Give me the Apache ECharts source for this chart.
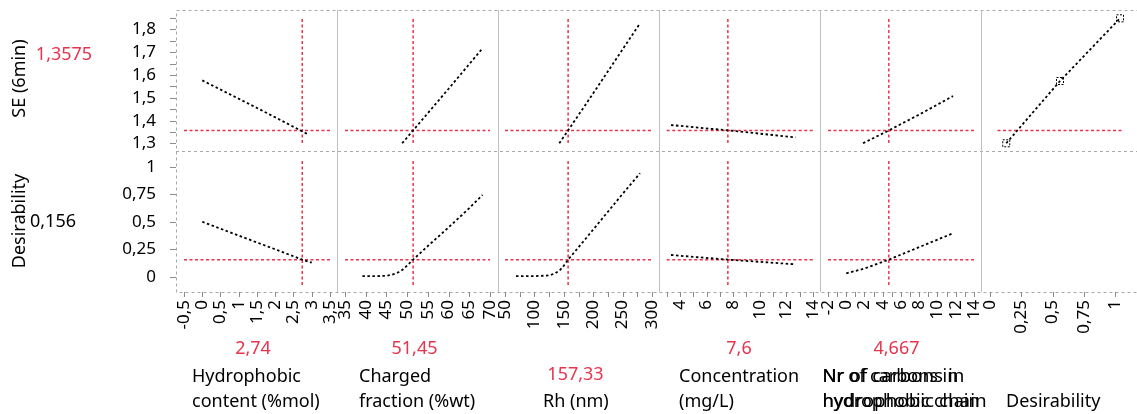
<!DOCTYPE html>
<html>
<head>
<meta charset="utf-8">
<script src="https://cdn.jsdelivr.net/npm/echarts@6/dist/echarts.min.js"></script>
<style>
  html, body { margin: 0; padding: 0; background: #ffffff; }
  #chart { width: 1137px; height: 414px; }
</style>
</head>
<body>
<div id="chart"></div>
<script>
// ---- Prediction profiler data: SE (6min) and Desirability against five factors ----
const factorTitles = [
  ['Hydrophobic', 'content (%mol)'],
  ['Charged', 'fraction (%wt)'],
  ['Rh (nm)'],
  ['Concentration', '(mg/L)'],
  ['Nr of carbons in', 'hydrophobic chain'],
  ['Desirability']
];
const responseTitles = ['SE (6min)', 'Desirability'];

// current factor settings and predicted response / desirability
const currentX = [2.74, 51.45, 157.33, 7.6, 4.667];
const currentSE = 1.3575;
const currentD = 0.156;

// tick labels
const xTickValues = [
  [-0.5, 0, 0.5, 1, 1.5, 2, 2.5, 3, 3.5],
  [35, 40, 45, 50, 55, 60, 65, 70],
  [50, 100, 150, 200, 250, 300],
  [4, 6, 8, 10, 12, 14],
  [-2, 0, 2, 4, 6, 8, 10, 12, 14],
  [0, 0.25, 0.5, 0.75, 1]
];
const xTickMarks = [
  [-0.5, 0, 0.5, 1, 1.5, 2, 2.5, 3, 3.5],
  [35, 40, 45, 50, 55, 60, 65, 70],
  [50, 75, 100, 125, 150, 175, 200, 225, 250, 275, 300],
  [3, 4, 5, 6, 7, 8, 9, 10, 11, 12, 13, 14],
  [-2, -1, 0, 1, 2, 3, 4, 5, 6, 7, 8, 9, 10, 11, 12, 13, 14],
  [0, 0.25, 0.5, 0.75, 1]
];
const seTickValues = [1.3, 1.4, 1.5, 1.6, 1.7, 1.8];
const seTickMarks = [1.3, 1.35, 1.4, 1.45, 1.5, 1.55, 1.6, 1.65, 1.7, 1.75, 1.8, 1.85];
const dTickValues = [0, 0.25, 0.5, 0.75, 1];

// profile traces of SE (6min) for each factor: [x, SE]
const seProfiles = [
  [[0, 1.577], [1.5, 1.456], [2.9, 1.340]],
  [[48.8, 1.301], [51.45, 1.3575], [60, 1.540], [68.2, 1.7175]],
  [[142.3, 1.301], [157.33, 1.3575], [200, 1.520], [279.6, 1.827]],
  [[3.32, 1.381], [7.6, 1.3575], [12.7, 1.327]],
  [[1.84, 1.301], [4.667, 1.3575], [8, 1.427], [11.7, 1.508]]
];
// profile traces of Desirability for each factor: [x, d]
const dProfiles = [
  [[0, 0.501], [1, 0.375], [2, 0.25], [2.74, 0.156], [3.0, 0.128]],
  [[39.2, 0.006], [43, 0.006], [45, 0.009], [46, 0.015], [47, 0.027], [48, 0.043], [48.8, 0.061], [50, 0.102], [51.45, 0.156], [55, 0.28], [60, 0.45], [65, 0.625], [68.2, 0.745]],
  [[68.7, 0.006], [100, 0.006], [120, 0.01], [126.5, 0.015], [135, 0.03], [143.5, 0.061], [150, 0.1], [157.33, 0.156], [180, 0.30], [200, 0.43], [220, 0.56], [250, 0.755], [279.6, 0.943]],
  [[3.32, 0.198], [7.6, 0.156], [12.7, 0.113]],
  [[0, 0.031], [2, 0.075], [4.667, 0.156], [8, 0.27], [11.7, 0.396]]
];
// desirability function handles: [desirability, SE]
const desirabilityHandles = [[0.13, 1.301], [0.56, 1.574], [1.04, 1.849]];

// extents of the crosshair lines, in axis units
const hLineSpan = [[-0.5, 3.5], [35, 70], [50, 300], [3, 14], [-2, 14], [0.06, 1.07]];
const seVSpan = [1.302, 1.850];
const dVSpan = [-0.076, 1.064];

// axis ranges of each panel
const xRange = [[-0.719, 3.692], [33.07, 71.93], [38.1, 311.9], [2.42, 14.53], [-2.877, 14.77], [-0.072, 1.216]];
const seRange = [1.2671, 1.8855];
const dRange = [-0.139, 1.146];

// ---- layout ----
const colEdges = [176, 337, 498, 659, 820, 981, 1142];
const rowEdges = [10, 151, 292];
const FONT = '"Noto Sans", "Open Sans", sans-serif';
const RED = '#e8334d';
const GRAY = '#a8a8a8';
const TICK = '#8c8c8c';
const TRACE = { color: '#000000', width: 1.8, type: [2.5, 2.5] };
const CROSS = { color: RED, width: 1.5, type: [3, 2.5] };

const fmt = v => String(v).replace('.', ',');

const grid = [], xAxis = [], yAxis = [], series = [];
for (let r = 0; r < 2; r++) {
  for (let c = 0; c < 6; c++) {
    const i = r * 6 + c;
    grid.push({
      left: colEdges[c], top: rowEdges[r],
      width: colEdges[c + 1] - colEdges[c], height: rowEdges[r + 1] - rowEdges[r],
      containLabel: false, outerBoundsMode: 'none', show: false
    });
    xAxis.push({
      type: 'value', gridIndex: i, position: 'bottom',
      min: xRange[c][0], max: xRange[c][1],
      show: r === 1,
      axisLine: { show: false, onZero: false }, splitLine: { show: false },
      axisTick: { show: false },
      axisLabel: { rotate: 90, margin: 8, fontSize: 17, fontFamily: FONT, color: '#000',
                   customValues: xTickValues[c], formatter: fmt }
    });
    yAxis.push({
      type: 'value', gridIndex: i, position: 'left',
      min: r === 0 ? seRange[0] : dRange[0], max: r === 0 ? seRange[1] : dRange[1],
      show: c === 0,
      axisLine: { show: false, onZero: false }, splitLine: { show: false },
      axisTick: { show: false },
      axisLabel: { margin: 20, fontSize: 17, fontFamily: FONT, color: '#000',
                   customValues: r === 0 ? seTickValues : dTickValues, formatter: fmt }
    });

    const base = { type: 'line', xAxisIndex: i, yAxisIndex: i, symbol: 'none', silent: true, animation: false };
    const cur = r === 0 ? currentSE : currentD;
    // horizontal crosshair at the current response
    if (!(r === 1 && c === 5)) {
      series.push(Object.assign({}, base, {
        z: 2, lineStyle: CROSS,
        data: [[hLineSpan[c][0], cur], [hLineSpan[c][1], cur]]
      }));
    }
    if (c < 5) {
      const vs = r === 0 ? seVSpan : dVSpan;
      series.push(Object.assign({}, base, {
        z: 2, lineStyle: CROSS,
        data: [[currentX[c], vs[0]], [currentX[c], vs[1]]]
      }));
      series.push(Object.assign({}, base, {
        z: 3, lineStyle: TRACE,
        data: r === 0 ? seProfiles[c] : dProfiles[c]
      }));
    } else if (r === 0) {
      series.push(Object.assign({}, base, {
        z: 3, lineStyle: TRACE,
        symbol: 'rect', symbolSize: 7, showSymbol: true,
        itemStyle: { color: 'rgba(0,0,0,0)', borderColor: '#000', borderWidth: 1, borderType: [2, 1.5] },
        data: desirabilityHandles
      }));
    }
  }
}

// ---- frame, separators and text ----
const graphic = [];
graphic.push({
  type: 'rect', silent: true, z: 1,
  shape: { x: colEdges[0] + 0.5, y: rowEdges[0] + 0.5, width: colEdges[6] - colEdges[0], height: rowEdges[2] - rowEdges[0] },
  style: { fill: null, stroke: GRAY, lineWidth: 1, lineDash: [3, 3] }
});
graphic.push({
  type: 'line', silent: true, z: 1,
  shape: { x1: colEdges[0], y1: rowEdges[1] + 0.5, x2: colEdges[6], y2: rowEdges[1] + 0.5 },
  style: { stroke: GRAY, lineWidth: 1, lineDash: [3, 3] }
});
for (let c = 1; c < 6; c++) {
  graphic.push({
    type: 'line', silent: true, z: 1,
    shape: { x1: colEdges[c] + 0.5, y1: rowEdges[0], x2: colEdges[c] + 0.5, y2: rowEdges[2] },
    style: { stroke: '#c0c0c0', lineWidth: 1 }
  });
}

function text(str, x, y, opts) {
  opts = opts || {};
  const align = opts.align || 'center';
  return {
    type: 'text', silent: true, z: 5, x: x, y: y,
    rotation: opts.rotation || 0, scaleX: opts.scaleX || 1,
    style: {
      text: str, fill: opts.color || '#000',
      font: (opts.size || 18) + 'px ' + FONT,
      align: align, textAlign: align,
      verticalAlign: 'middle', textVerticalAlign: 'middle'
    }
  };
}

// response titles and current values
graphic.push(text(responseTitles[0], 20, 78.5, { rotation: Math.PI / 2 }));
graphic.push(text(fmt(currentSE), 64, 55, { color: RED }));
graphic.push(text(responseTitles[1], 20, 221, { rotation: Math.PI / 2 }));
graphic.push(text(fmt(currentD), 53, 222));

// current factor values under each panel
const valuePos = [[253, 349], [414.5, 349], [575.5, 375], [739, 349], [896.5, 349]];
currentX.forEach((v, c) => graphic.push(text(fmt(v), valuePos[c][0], valuePos[c][1], { color: RED })));

// factor titles, left aligned, last line on the bottom row
// (the carbon-chain title is printed twice at slightly different widths)
const titleLeft = [192, 359, 543, 679, 822.5, 1006];
factorTitles.forEach((lines, c) => {
  lines.forEach((ln, k) => {
    const y = 402 - (lines.length - 1 - k) * 25;
    graphic.push(text(ln, titleLeft[c], y, { align: 'left' }));
    if (c === 4) {
      graphic.push(text(ln, titleLeft[c], y, { align: 'left', scaleX: 1.045 }));
    }
  });
});

const chart = echarts.init(document.getElementById('chart'), null, { renderer: 'canvas', width: 1137, height: 414 });
chart.setOption({
  backgroundColor: '#ffffff',
  animation: false,
  grid: grid,
  xAxis: xAxis,
  yAxis: yAxis,
  series: series
});

// tick marks: placed through each axis' own scale, pointing out of the frame
function tickLine(x1, y1, x2, y2) {
  return { type: 'line', silent: true, z: 4, shape: { x1, y1, x2, y2 }, style: { stroke: TICK, lineWidth: 1 } };
}
for (let c = 0; c < 6; c++) {
  xTickMarks[c].forEach(v => {
    const px = Math.round(chart.convertToPixel({ xAxisIndex: 6 + c }, v)) + 0.5;
    graphic.push(tickLine(px, rowEdges[2], px, rowEdges[2] + 5));
  });
}
[[0, seTickMarks], [6, dTickValues]].forEach(([axisIdx, marks]) => {
  marks.forEach(v => {
    const py = Math.round(chart.convertToPixel({ yAxisIndex: axisIdx }, v)) + 0.5;
    graphic.push(tickLine(colEdges[0] - 6, py, colEdges[0], py));
  });
});

chart.setOption({ graphic: graphic });
</script>
</body>
</html>
